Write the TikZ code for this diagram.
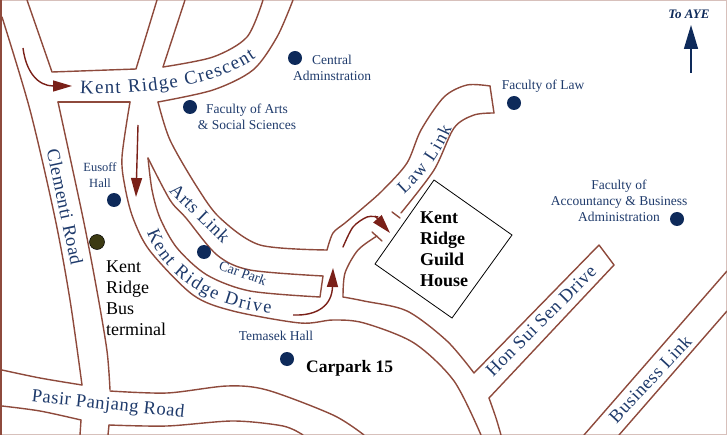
\documentclass[tikz,border=0pt]{standalone}
\usepackage{fontspec}
\setmainfont{Liberation Serif}
\newfontfamily\roadfont[LetterSpace=3]{Liberation Serif}
\usetikzlibrary{arrows.meta,decorations.text}
\definecolor{roadbrown}{HTML}{8E4A3C}
\definecolor{arrowred}{HTML}{7A2018}
\definecolor{mapnavy}{HTML}{1E3A6B}
\definecolor{dotnavy}{HTML}{0E2A5A}
\definecolor{busolive}{HTML}{3C3A12}
\tikzset{
  road/.style={draw=roadbrown,line width=1.4pt,line cap=round,line join=round},
  route/.style={draw=arrowred,line width=1.4pt,-{Triangle[length=19pt,width=11pt]}},
  place/.style={circle,fill=dotnavy,inner sep=0pt,minimum size=14pt},
  maptext/.style={text=mapnavy,align=center,inner sep=0pt,font=\fontsize{13.5}{16}\selectfont},
  roadname/.style={text=mapnavy,inner sep=0pt,font=\fontsize{18.5}{19}\selectfont\roadfont},
  blacktext/.style={text=black,align=left,anchor=north west,inner sep=0pt,font=\fontsize{18}{21}\selectfont}
}
\begin{document}
\begin{tikzpicture}[x=1pt,y=-1pt]
  \useasboundingbox (0,0) rectangle (727,435);
  \draw[roadbrown!35,line width=.6pt] (0.5,0.5) rectangle (726.5,434.5);
  \draw[road] (1,0) -- (1,435);

  % Clementi Road
  \draw[road] plot[smooth] coordinates {(2,17) (30,110) (55,218) (70,300) (82,385)};
  \draw[road] plot[smooth] coordinates {(58,102) (83,218) (97,291) (107,351) (110,390)};
  \draw[road] (81,420) -- (80,435);
  \draw[road] (109,425) -- (108,435);

  % Kent Ridge Crescent
  \draw[road] (27,0) -- (52,72) -- (136,69) -- (157,0);
  \draw[road] (185,0) -- (163,67);
  \draw[road] plot[smooth] coordinates {(163,67) (213,57) (247,37) (263,0)};
  \draw[road] plot[smooth] coordinates {(293,0) (277,37) (253,70) (213,90) (158,102)};
  \draw[road] (58,102) -- (130,102);

  % Kent Ridge Drive
  \draw[road] plot[smooth] coordinates {(130,102) (122,157) (125,187) (133,218) (150,251) (193,295) (233,311) (300,323) (333,320) (364,323) (414,343) (454,381) (481,435)};

  % Arts Link and car park road
  \draw[road] plot[smooth] coordinates {(158,102) (170,140) (197,187) (220,218) (260,245) (327,250)};
  \draw[road] plot[smooth] coordinates {(327,250) (333,233) (345,223) (364,207) (383,190) (407,163) (421,130) (444,97) (467,85) (490,86)};
  \draw[road] (490,86) -- (494,113);
  \draw[road] plot[smooth] coordinates {(494,113) (474,115) (454,128) (434,170) (401,213)};
  \draw[road] (392,212) -- (400,218);
  \draw[road] plot[smooth] coordinates {(148,158) (170,200) (186,218) (217,255) (250,270) (323,276)};
  \draw[road] (323,276) -- (320,297);
  \draw[road] plot[smooth] coordinates {(148,158) (152,190) (160,218) (177,248) (207,275) (250,291) (320,297)};

  % junction
  \draw[road] (372,232) -- (382,241);
  \draw[road] plot[smooth] coordinates {(377,236) (358,250) (345,273) (343,297)};
  \draw[road] plot[smooth] coordinates {(343,297) (364,301) (407,311) (447,341) (474,373)};

  % Hon Sui Sen Drive
  \draw[road] (474,373) -- (599,245) -- (614,265) -- (489,398);
  \draw[road] plot[smooth] coordinates {(489,398) (496,418) (501,435)};

  % Business Link
  \draw[road] (584,435) -- (727,271);
  \draw[road] (619,435) -- (727,311);

  % Pasir Panjang Road
  \draw[road] plot[smooth] coordinates {(2,370) (40,378) (82,385)};
  \draw[road] plot[smooth] coordinates {(2,406) (40,411) (81,420)};
  \draw[road] plot[smooth] coordinates {(110,391) (167,393) (227,386) (267,390) (333,415) (364,435)};
  \draw[road] plot[smooth] coordinates {(109,425) (167,426) (233,421) (283,426) (303,435)};

  % route arrows
  \coordinate (routeA) at (72,86);
  \coordinate (routeB) at (136,197);
  \coordinate (routeC) at (333,268);
  \coordinate (routeD) at (390,233);
  \draw[route] (23,48) .. controls (26,72) and (38,86) .. (routeA);
  \draw[route] (138,125) -- (routeB);
  \draw[route] (293,315) .. controls (318,316) and (332,305) .. (routeC);
  \draw[road,draw=arrowred] plot[smooth] coordinates {(343,247) (353,227) (367,217) (378,217)};
  \draw[route] (375,216) -- (routeD);

  % guild house
  \draw[black,line width=.8pt] (434,180) -- (512,235) -- (452,318) -- (375,264) -- cycle;
  \node[blacktext,font=\fontsize{18}{21}\selectfont\bfseries] (guild) at (420,212) {Kent\\Ridge\\Guild\\House};
  \node[blacktext,font=\fontsize{17.5}{21}\selectfont\bfseries] (carpark) at (306,360) {Carpark 15};
  \node[blacktext] (terminal) at (106,261) {Kent\\Ridge\\Bus\\terminal};
  \node[circle,draw=black,line width=.5pt,fill=busolive,inner sep=0pt,minimum size=15pt] (bus) at (97,242) {};

  % places
  \node[place] (central) at (295,58) {};
  \node[place] (arts) at (190,107) {};
  \node[place] (eusoff) at (114,200) {};
  \node[place] (carparkdot) at (204,252) {};
  \node[place] (temasek) at (287,359) {};
  \node[place] (law) at (514,103) {};
  \node[place] (accountancy) at (677,219) {};

  \node[maptext] (centraltext) at (332,68) {Central\\Adminstration};
  \node[maptext] (artstext) at (247,117) {Faculty of Arts\\\& Social Sciences};
  \node[maptext,font=\fontsize{12.5}{16}\selectfont] (eusofftext) at (100,175) {Eusoff\\Hall};
  \node[maptext] (temasektext) at (276,336) {Temasek Hall};
  \node[maptext] (lawtext) at (543,86) {Faculty of Law};
  \node[maptext] (accountancytext) at (619,201) {Faculty of\\Accountancy \& Business\\Administration};

  % road names
  \node[roadname,rotate=-78] (clementi) at (65,207) {Clementi Road};
  \node[roadname,rotate=-6] (pasir) at (108,405) {Pasir Panjang Road};
  \node[roadname,rotate=45] (honsui) at (541,321) {Hon Sui Sen Drive};
  \node[roadname,rotate=47] (business) at (650,379) {Business Link};
  \node[roadname,rotate=-44] (artslink) at (200,213) {Arts Link};
  \node[roadname,rotate=-20,font=\fontsize{14}{14}\selectfont] (carparktext) at (243,273) {Car Park};
  \path[decorate,decoration={text along path,text align={fit to path},text={|\fontsize{19}{19}\selectfont\color{mapnavy}|Kent Ridge Crescent}}]
    (80,93) .. controls (125,96) and (210,90) .. (256,58);
  \path[decorate,decoration={text along path,text align={fit to path},text={|\fontsize{18.5}{19}\selectfont\color{mapnavy}|Kent Ridge Drive}}]
    (147,232) .. controls (160,270) and (205,308) .. (271,313);
  \path[decorate,decoration={text along path,text align={fit to path},text={|\fontsize{18}{18}\selectfont\color{mapnavy}|Law Link}}]
    (404,194) .. controls (425,175) and (440,155) .. (452,128);

  % to AYE
  \node[text=dotnavy,inner sep=0pt,font=\fontsize{13}{14}\selectfont\bfseries\itshape] (aye) at (689,14) {To AYE};
  \coordinate (ayefoot) at (691,73);
  \draw[dotnavy,line width=1.5pt,-{Triangle[length=24pt,width=14pt]}] (ayefoot) -- (691,25);
\end{tikzpicture}
\end{document}
